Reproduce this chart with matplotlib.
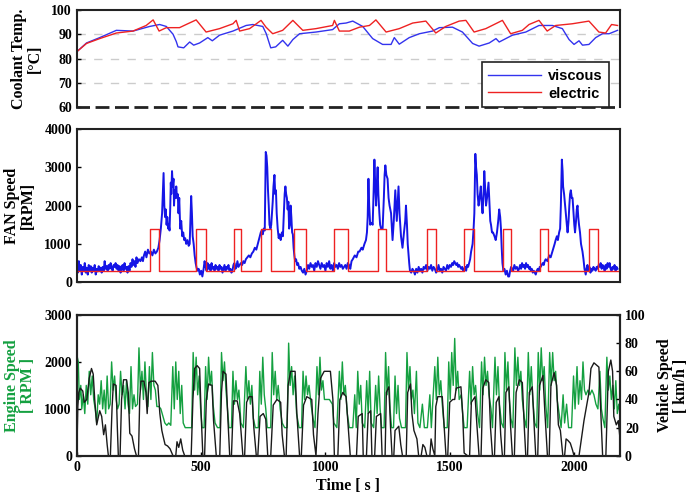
import matplotlib
matplotlib.use("Agg")
import matplotlib.pyplot as plt

plt.rcParams["font.family"] = ["Liberation Serif", "DejaVu Serif"]
plt.rcParams["font.weight"] = "bold"

# ---- coolant temperature [degC] ----
visc_t = [0, 39, 92, 159, 226, 293, 333, 360, 387, 400, 407, 430, 454, 470, 494,
          527, 545, 574, 628, 681, 708, 748, 762, 780, 800, 828, 849, 869, 896, 962,
          1029, 1056, 1083, 1110, 1150, 1190, 1230, 1264, 1277, 1297, 1337, 1378, 1431,
          1458, 1511, 1551, 1592, 1618, 1659, 1686, 1699, 1752, 1806, 1859, 1913, 1953,
          1980, 2000, 2020, 2034, 2060, 2087, 2114, 2141, 2175]
visc_temp = [82.8, 86.4, 88.6, 91.6, 91.3, 93.2, 94.0, 93.2, 90.0, 87.0, 84.8, 84.4,
             86.8, 85.5, 86.4, 88.6, 87.3, 89.6, 91.3, 93.6, 94.0, 93.2, 90.2, 84.4,
             84.8, 87.5, 85.1, 87.8, 90.2, 90.9, 91.9, 94.3, 94.6, 95.4, 93.2, 88.2,
             85.8, 85.8, 88.6, 85.9, 88.6, 90.2, 91.3, 92.7, 92.9, 90.9, 86.2, 85.1,
             86.4, 88.2, 86.8, 89.6, 90.9, 93.6, 93.6, 92.3, 87.8, 85.8, 87.3, 85.5,
             85.8, 88.6, 90.2, 90.2, 91.6]
elec_t = [0, 39, 92, 159, 226, 279, 307, 331, 360, 413, 440, 480, 520, 574, 628, 641,
          655, 695, 741, 761, 788, 828, 869, 909, 962, 1029, 1036, 1056, 1096, 1137,
          1177, 1203, 1244, 1297, 1351, 1404, 1444, 1484, 1538, 1565, 1598, 1645, 1712,
          1745, 1792, 1819, 1859, 1892, 1926, 1993, 2060, 2100, 2127, 2151, 2175]
elec_temp = [82.8, 86.2, 88.2, 90.5, 91.3, 93.6, 95.9, 91.3, 92.7, 92.7, 94.0, 95.9,
             90.9, 92.3, 94.3, 95.7, 91.3, 92.3, 95.7, 92.9, 90.2, 91.6, 95.7, 91.6,
             92.3, 93.6, 95.7, 91.3, 91.3, 92.9, 93.6, 95.9, 90.9, 92.3, 94.6, 95.4,
             90.5, 93.2, 95.4, 95.7, 90.9, 92.3, 95.7, 90.2, 91.6, 94.0, 95.7, 91.3,
             93.6, 94.3, 95.4, 90.9, 90.5, 94.0, 93.6]

# ---- fan speed [RPM] ----
fan_elec_t = [0, 296, 331, 478, 521, 632, 661, 739, 782, 873, 920, 1033, 1090, 1210,
              1244, 1407, 1444, 1558, 1598, 1715, 1746, 1865, 1897, 2060, 2098, 2175]
fan_elec = [300, 1400, 300, 1400, 300, 1400, 300, 1400, 300, 1400, 300, 1400, 300,
            1400, 300, 1400, 300, 1400, 300, 1400, 300, 1400, 300, 1400, 300, 300]

fan_visc = [
    (0, 400), (4, 250), (8, 550), (12, 300), (16, 450), (20, 200), (24, 400), (28, 300),
    (32, 500), (36, 250), (40, 380), (44, 200), (48, 450), (52, 300), (56, 420), (60, 250),
    (64, 380), (68, 300), (72, 450), (76, 200), (80, 350), (84, 280), (88, 420), (92, 300),
    (96, 380), (100, 250), (104, 400), (108, 300), (112, 550), (116, 350), (120, 420),
    (124, 300), (128, 450), (132, 350), (136, 500), (140, 380), (144, 300), (148, 450),
    (152, 400), (156, 500), (160, 350), (164, 450), (168, 300), (172, 420), (176, 250),
    (180, 380), (184, 450), (188, 300), (192, 500), (196, 350), (200, 400), (204, 250),
    (208, 420), (212, 300), (216, 500), (220, 400), (224, 600), (228, 450), (232, 550),
    (236, 400), (240, 650), (244, 500), (250, 600), (256, 550), (262, 650), (266, 550),
    (270, 700), (275, 800), (280, 650), (286, 850), (292, 750), (298, 800), (304, 700),
    (310, 850), (316, 750), (322, 800), (328, 900), (333, 1100), (338, 1400), (343, 1800),
    (346, 2300), (349, 2850), (352, 2000), (355, 1700), (358, 1900), (361, 1500),
    (364, 1700), (367, 1400), (370, 1500), (373, 1350), (376, 2000), (378, 2600),
    (380, 2300), (383, 2900), (386, 2500), (389, 2700), (391, 2000), (394, 2400),
    (397, 2200), (400, 2500), (403, 2200), (406, 2300), (409, 1800), (412, 2200),
    (416, 1400), (420, 1600), (424, 1200), (428, 1300), (432, 1100), (436, 1150),
    (440, 1000), (445, 1100), (450, 950), (454, 1000), (457, 1600), (460, 2250),
    (463, 1800), (466, 1200), (470, 1000), (474, 700), (478, 500), (481, 400),
    (485, 300), (490, 350), (495, 200), (500, 300), (505, 150), (510, 350), (514, 550),
    (518, 400), (522, 300), (526, 500), (530, 350), (534, 450), (538, 300), (542, 500),
    (546, 350), (550, 400), (554, 300), (558, 450), (562, 350), (566, 400), (570, 300),
    (574, 450), (578, 350), (582, 400), (586, 250), (590, 350), (594, 450), (598, 300),
    (602, 400), (606, 350), (610, 450), (614, 300), (618, 350), (622, 250), (626, 300),
    (630, 450), (634, 500), (638, 350), (642, 400), (646, 550), (650, 400), (655, 450),
    (660, 500), (665, 450), (670, 550), (675, 500), (680, 600), (686, 650), (692, 700),
    (698, 650), (704, 750), (710, 800), (716, 900), (722, 850), (728, 1000), (732, 1100),
    (736, 1200), (740, 1300), (744, 1350), (748, 1250), (752, 1400), (756, 1350),
    (758, 2500), (760, 3400), (763, 3300), (766, 3000), (769, 2400), (772, 2000),
    (775, 1500), (779, 1400), (782, 1500), (785, 1800), (788, 2100), (791, 2500),
    (795, 2800), (798, 2300), (801, 2400), (804, 1800), (808, 1400), (812, 1150),
    (816, 1250), (820, 1100), (825, 1300), (829, 1200), (833, 1800), (836, 2300),
    (839, 2500), (842, 2300), (845, 2200), (848, 1900), (851, 2100), (854, 1400),
    (857, 1500), (860, 2000), (863, 1700), (866, 1300), (869, 1250), (872, 900),
    (875, 700), (878, 550), (882, 600), (886, 450), (890, 500), (895, 350), (900, 400),
    (905, 300), (910, 250), (915, 350), (920, 200), (925, 300), (930, 450), (935, 350),
    (940, 500), (945, 400), (950, 450), (955, 300), (960, 500), (965, 400), (970, 550),
    (975, 450), (980, 350), (985, 500), (990, 400), (995, 450), (1000, 300), (1005, 500),
    (1010, 400), (1015, 550), (1020, 350), (1025, 450), (1030, 300), (1035, 500),
    (1040, 400), (1045, 450), (1050, 350), (1055, 500), (1060, 400), (1065, 450),
    (1070, 350), (1075, 400), (1080, 450), (1085, 350), (1090, 500), (1095, 450),
    (1100, 350), (1105, 550), (1110, 600), (1118, 700), (1125, 650), (1132, 800),
    (1137, 800), (1145, 900), (1150, 850), (1157, 1000), (1163, 1100), (1167, 1300),
    (1170, 1700), (1173, 2700), (1176, 2000), (1180, 1500), (1186, 1550), (1190, 1500),
    (1194, 2400), (1197, 3200), (1200, 2600), (1204, 2000), (1207, 2600), (1210, 3000),
    (1213, 2300), (1217, 1800), (1220, 1500), (1224, 1400), (1230, 1400), (1235, 2200),
    (1238, 2800), (1241, 3050), (1245, 2800), (1250, 2700), (1254, 2200), (1258, 2000),
    (1264, 1800), (1270, 1100), (1275, 1600), (1278, 2000), (1281, 2400), (1284, 2000),
    (1287, 1600), (1291, 2100), (1294, 2500), (1298, 1800), (1304, 1200), (1310, 900),
    (1316, 1300), (1321, 1600), (1324, 2000), (1328, 1500), (1331, 1000), (1337, 500),
    (1340, 300), (1345, 250), (1350, 350), (1355, 300), (1360, 200), (1365, 350),
    (1370, 250), (1375, 400), (1380, 300), (1385, 350), (1390, 250), (1395, 400),
    (1400, 350), (1405, 450), (1410, 300), (1415, 400), (1420, 350), (1425, 450),
    (1430, 300), (1435, 400), (1440, 350), (1445, 250), (1450, 300), (1455, 450),
    (1460, 300), (1465, 350), (1470, 250), (1475, 400), (1480, 350), (1485, 300),
    (1490, 450), (1495, 350), (1500, 450), (1505, 400), (1510, 500), (1514, 450),
    (1518, 550), (1522, 500), (1526, 450), (1530, 500), (1534, 400), (1538, 450),
    (1542, 400), (1546, 350), (1550, 400), (1554, 300), (1558, 350), (1562, 400),
    (1566, 300), (1570, 450), (1574, 400), (1578, 500), (1582, 600), (1586, 800),
    (1592, 1000), (1596, 1400), (1599, 1800), (1601, 2600), (1603, 3350), (1606, 3000),
    (1609, 2800), (1612, 2300), (1616, 2000), (1620, 2200), (1625, 2500), (1628, 2100),
    (1632, 1800), (1636, 2300), (1639, 2900), (1642, 2500), (1646, 2000), (1650, 2200),
    (1653, 2400), (1656, 2600), (1660, 2000), (1663, 1600), (1666, 1500), (1670, 1300),
    (1674, 1300), (1680, 1200), (1685, 1100), (1690, 1300), (1695, 1600), (1699, 1900),
    (1703, 1700), (1706, 1400), (1709, 900), (1712, 500), (1716, 300), (1720, 350),
    (1725, 200), (1730, 300), (1735, 150), (1739, 150), (1743, 300), (1747, 400),
    (1751, 350), (1755, 300), (1760, 450), (1765, 350), (1770, 400), (1775, 300),
    (1779, 350), (1783, 450), (1787, 350), (1791, 500), (1795, 400), (1799, 450),
    (1803, 350), (1807, 500), (1811, 400), (1815, 450), (1819, 350), (1823, 400),
    (1826, 300), (1830, 350), (1834, 250), (1838, 300), (1842, 250), (1846, 200),
    (1850, 300), (1854, 350), (1858, 300), (1862, 400), (1866, 400), (1870, 450),
    (1874, 500), (1878, 450), (1882, 550), (1886, 600), (1893, 550), (1900, 700),
    (1906, 650), (1913, 800), (1918, 900), (1922, 1000), (1926, 1100), (1931, 1200),
    (1935, 1100), (1940, 1300), (1944, 1400), (1947, 2000), (1951, 3200), (1954, 2900),
    (1956, 2500), (1960, 2300), (1964, 2000), (1968, 1700), (1971, 1500), (1974, 1300),
    (1978, 1600), (1981, 2000), (1984, 2300), (1987, 2400), (1991, 2200), (1994, 2200),
    (1998, 1800), (2001, 1500), (2004, 1300), (2008, 1600), (2011, 1900), (2014, 2000),
    (2017, 1700), (2020, 1500), (2024, 1300), (2028, 1000), (2031, 900), (2034, 800),
    (2038, 600), (2042, 350), (2047, 200), (2050, 350), (2054, 450), (2058, 300),
    (2062, 400), (2066, 250), (2070, 350), (2074, 300), (2078, 400), (2082, 350),
    (2087, 300), (2091, 400), (2095, 350), (2099, 450), (2103, 400), (2107, 500),
    (2111, 350), (2115, 450), (2119, 400), (2123, 300), (2127, 450), (2131, 350),
    (2135, 500), (2139, 400), (2143, 500), (2147, 350), (2151, 300), (2155, 400),
    (2159, 350), (2163, 450), (2167, 300), (2171, 400), (2175, 350),
]
fan_visc_t = [p[0] for p in fan_visc]
fan_visc_v = [p[1] for p in fan_visc]

# ---- engine speed [RPM] ----
engine = [
    (0, 600), (2, 2100), (6, 2000), (10, 1200), (16, 1500), (20, 1000), (26, 1300),
    (32, 900), (38, 1500), (44, 1100), (50, 1800), (56, 1300), (62, 1700), (68, 1200),
    (74, 1000), (80, 700), (86, 1300), (92, 1100), (98, 1600), (104, 1000), (110, 1400),
    (116, 900), (122, 1700), (128, 1000), (134, 1100), (140, 2000), (146, 1400),
    (152, 1700), (158, 1200), (164, 1000), (170, 1100), (176, 1800), (182, 1300),
    (188, 1500), (194, 1000), (200, 1600), (206, 1100), (212, 900), (218, 1900),
    (224, 1000), (230, 1300), (236, 1050), (244, 1100), (250, 2300), (256, 1400),
    (262, 1800), (268, 1200), (274, 2000), (280, 1300), (286, 1050), (292, 1900),
    (298, 1200), (304, 2200), (310, 1500), (316, 1400), (322, 1050), (330, 1050),
    (338, 1000), (346, 850), (354, 700), (362, 650), (370, 700), (378, 650), (386, 1900),
    (392, 1000), (398, 2000), (404, 1200), (410, 1800), (416, 900), (422, 1500),
    (428, 700), (436, 600), (450, 600), (462, 600), (468, 2200), (474, 1400), (480, 2100),
    (486, 1300), (492, 1700), (498, 1000), (504, 600), (512, 600), (518, 1900),
    (524, 1200), (530, 2100), (536, 1500), (542, 1800), (548, 1100), (556, 700),
    (566, 600), (576, 600), (582, 2200), (588, 1600), (594, 2000), (600, 1400),
    (606, 1000), (612, 600), (622, 600), (628, 1800), (634, 1100), (640, 1600),
    (646, 1200), (652, 1400), (660, 700), (670, 600), (680, 1900), (686, 1200),
    (692, 1600), (698, 1100), (704, 1500), (710, 800), (718, 600), (730, 600),
    (736, 1800), (742, 1100), (748, 2100), (754, 1300), (760, 1000), (766, 600),
    (780, 600), (786, 2200), (792, 1300), (798, 1800), (804, 1200), (810, 1500),
    (818, 1000), (826, 700), (836, 600), (846, 600), (852, 2400), (858, 1500),
    (864, 1900), (870, 1300), (876, 1700), (884, 900), (894, 600), (904, 600),
    (910, 1800), (916, 1200), (922, 1700), (928, 1300), (934, 1500), (942, 1100),
    (950, 800), (958, 600), (966, 1900), (972, 1300), (978, 2100), (984, 1400),
    (990, 1600), (996, 1200), (1004, 1200), (1016, 1200), (1028, 1100), (1034, 700),
    (1046, 600), (1056, 1800), (1062, 1200), (1068, 2000), (1074, 1300), (1080, 1500),
    (1088, 900), (1096, 600), (1110, 600), (1118, 1300), (1124, 600), (1130, 1800),
    (1136, 1100), (1142, 1500), (1148, 700), (1158, 600), (1166, 1600), (1172, 900),
    (1178, 1800), (1184, 700), (1194, 600), (1202, 1500), (1208, 900), (1214, 1700),
    (1220, 1000), (1226, 600), (1236, 600), (1242, 2200), (1248, 1300), (1254, 1900),
    (1260, 1000), (1266, 600), (1274, 600), (1280, 1700), (1286, 900), (1292, 1500),
    (1298, 800), (1306, 600), (1322, 600), (1328, 2200), (1334, 1400), (1340, 1900),
    (1346, 1200), (1352, 1400), (1358, 900), (1366, 1800), (1372, 700), (1380, 600),
    (1390, 1100), (1398, 600), (1410, 600), (1420, 1300), (1426, 600), (1440, 1900),
    (1446, 1200), (1452, 2100), (1458, 1300), (1464, 1600), (1470, 1100), (1478, 600),
    (1490, 600), (1496, 2000), (1502, 1200), (1508, 2200), (1514, 1500), (1520, 2500),
    (1526, 1400), (1532, 1800), (1538, 1200), (1546, 1300), (1552, 900), (1558, 600),
    (1570, 600), (1580, 1800), (1586, 1100), (1592, 1900), (1598, 1300), (1604, 1500),
    (1612, 900), (1620, 600), (1628, 2000), (1634, 1300), (1640, 2100), (1646, 1500),
    (1652, 1800), (1658, 1300), (1666, 1000), (1672, 600), (1682, 2100), (1688, 1300),
    (1694, 1900), (1700, 1100), (1708, 700), (1716, 600), (1722, 2200), (1728, 1400),
    (1734, 2000), (1740, 1200), (1746, 800), (1754, 600), (1762, 2300), (1768, 1500),
    (1774, 2100), (1780, 1500), (1786, 1800), (1792, 1200), (1800, 800), (1808, 600),
    (1816, 2200), (1822, 1300), (1828, 1900), (1834, 1200), (1842, 700), (1850, 600),
    (1856, 2200), (1862, 1400), (1868, 2300), (1874, 1600), (1880, 1900), (1886, 1100),
    (1894, 600), (1902, 2200), (1908, 1500), (1914, 2200), (1920, 1600), (1926, 1800),
    (1932, 1200), (1940, 900), (1948, 600), (1956, 1300), (1962, 700), (1970, 1100),
    (1978, 600), (1990, 600), (1998, 1700), (2004, 1000), (2012, 1900), (2018, 1100),
    (2024, 1600), (2030, 1200), (2036, 2000), (2042, 1400), (2048, 1300), (2056, 1400),
    (2064, 1300), (2072, 1400), (2080, 1300), (2088, 1100), (2096, 1000), (2104, 1800),
    (2110, 1000), (2116, 800), (2124, 600), (2132, 2100), (2138, 1400), (2144, 1700),
    (2150, 1200), (2156, 1500), (2162, 1000), (2168, 1600), (2174, 900), (2180, 1100),
    (2185, 900),
]
engine_t = [p[0] for p in engine]
engine_rpm = [p[1] for p in engine]

# ---- vehicle speed [km/h] ----
vehicle = [
    (0, 0), (4, 35), (8, 45), (14, 48), (24, 46), (30, 38), (40, 40), (50, 55), (59, 62),
    (66, 58), (72, 40), (80, 22), (92, 32), (100, 28), (108, 15), (115, 22), (122, 8),
    (127, 0), (135, 0), (142, 35), (147, 51), (158, 50), (163, 20), (167, 0), (174, 0),
    (180, 40), (188, 54), (200, 54), (207, 45), (213, 16), (222, 14), (232, 5), (240, 0),
    (248, 0), (253, 40), (258, 53), (270, 53), (278, 45), (283, 30), (290, 52), (300, 53),
    (315, 53), (326, 50), (334, 30), (342, 18), (347, 14), (355, 8), (365, 7), (375, 5),
    (387, 0), (398, 0), (403, 10), (410, 6), (418, 12), (426, 4), (434, 0), (460, 0),
    (467, 40), (474, 62), (484, 64), (494, 62), (500, 30), (507, 0), (514, 0), (521, 40),
    (530, 51), (544, 50), (550, 25), (561, 0), (575, 0), (582, 45), (588, 60), (600, 58),
    (608, 25), (615, 0), (622, 0), (630, 39), (645, 39), (655, 30), (668, 0), (675, 0),
    (683, 38), (693, 42), (705, 42), (712, 20), (722, 0), (728, 0), (737, 28), (750, 30),
    (760, 26), (768, 0), (780, 0), (790, 36), (805, 40), (820, 38), (826, 15), (835, 0),
    (842, 0), (850, 50), (860, 60), (878, 60), (885, 30), (896, 0), (903, 0), (912, 36),
    (925, 42), (945, 40), (952, 15), (962, 0), (970, 30), (980, 55), (995, 60),
    (1020, 60), (1030, 40), (1036, 0), (1050, 0), (1058, 40), (1070, 45), (1083, 42),
    (1090, 25), (1100, 0), (1125, 0), (1132, 28), (1148, 30), (1152, 0), (1165, 0),
    (1172, 30), (1182, 32), (1187, 0), (1198, 0), (1205, 28), (1222, 30), (1228, 0),
    (1240, 0), (1245, 45), (1255, 49), (1262, 20), (1268, 0), (1275, 0), (1280, 18),
    (1295, 21), (1303, 8), (1310, 0), (1325, 0), (1331, 45), (1342, 51), (1348, 30),
    (1356, 18), (1368, 12), (1375, 0), (1385, 0), (1392, 8), (1400, 6), (1408, 0),
    (1420, 0), (1425, 12), (1432, 5), (1440, 0), (1444, 35), (1452, 42), (1470, 42),
    (1478, 20), (1485, 0), (1492, 0), (1500, 38), (1512, 40), (1520, 40), (1526, 48),
    (1545, 49), (1552, 30), (1558, 2), (1572, 0), (1580, 0), (1587, 38), (1602, 42),
    (1610, 20), (1618, 0), (1626, 0), (1633, 48), (1645, 54), (1657, 52), (1664, 20),
    (1672, 0), (1680, 0), (1687, 38), (1698, 42), (1705, 15), (1712, 0), (1720, 0),
    (1726, 45), (1738, 49), (1745, 20), (1752, 0), (1760, 0), (1767, 45), (1780, 54),
    (1792, 52), (1800, 20), (1806, 0), (1813, 0), (1820, 45), (1832, 49), (1840, 20),
    (1846, 0), (1854, 0), (1861, 50), (1875, 57), (1883, 30), (1893, 0), (1900, 0),
    (1907, 50), (1920, 59), (1930, 50), (1937, 22), (1945, 18), (1955, 0), (1962, 0),
    (1968, 12), (1975, 11), (1985, 9), (1994, 4), (2000, 0), (2020, 0), (2040, 25),
    (2060, 45), (2068, 62), (2080, 66), (2100, 63), (2108, 30), (2115, 0), (2128, 0),
    (2138, 60), (2148, 68), (2155, 60), (2160, 28), (2170, 22), (2178, 25), (2185, 12),
]
vehicle_t = [p[0] for p in vehicle]
vehicle_kmh = [p[1] for p in vehicle]

XMAX = 2185
TICK_FS = 10
LAB_FS = 11.5

fig = plt.figure(figsize=(6.92, 4.96), dpi=100)
ax1 = fig.add_axes([0.111, 0.784, 0.785, 0.196])
ax2 = fig.add_axes([0.111, 0.431, 0.785, 0.309])
ax3 = fig.add_axes([0.111, 0.081, 0.785, 0.284])
ax4 = ax3.twinx()

for ax in (ax1, ax2, ax3, ax4):
    for sp in ax.spines.values():
        sp.set_linewidth(1.5)
        sp.set_color("#222222")
    ax.tick_params(direction="in", length=3, width=1, labelsize=TICK_FS)
    ax.set_xlim(0, XMAX)

# coolant temperature
ax1.plot(visc_t, visc_temp, color="#3333ee", lw=1.0, label="viscous")
ax1.plot(elec_t, elec_temp, color="#ee2222", lw=1.0, label="electric")
ax1.set_ylim(60, 100)
ax1.set_yticks([60, 70, 80, 90, 100])
for v in [70, 80, 90]:
    ax1.axhline(v, color="#cccccc", lw=1.0, ls=(0, (6, 6)), zorder=0)
ax1.spines["bottom"].set_linestyle((0, (4, 3)))
ax1.spines["bottom"].set_linewidth(2)
ax1.tick_params(axis="x", length=0, labelbottom=False)
ax1.set_ylabel("Coolant Temp.\n[°C]", fontsize=LAB_FS, fontweight="bold",
               linespacing=1.0, labelpad=6)
leg = ax1.legend(loc="lower right", bbox_to_anchor=(0.98, 0.0), borderaxespad=0.0,
                 prop={"family": "Liberation Sans", "weight": "bold", "size": 10.5},
                 handlelength=3.6, fancybox=False, framealpha=1, labelspacing=0.25,
                 borderpad=0.45, handletextpad=0.5)
leg.get_frame().set_edgecolor("#222222")
leg.get_frame().set_linewidth(1.2)

# fan speed
ax2.plot(fan_visc_t, fan_visc_v, color="#1515e6", lw=1.4)
ax2.plot(fan_elec_t, fan_elec, color="#ee2222", lw=1.0, drawstyle="steps-post")
ax2.set_ylim(0, 4000)
ax2.set_yticks([0, 1000, 2000, 3000, 4000])
ax2.tick_params(axis="x", length=0, labelbottom=False)
ax2.set_ylabel("FAN Speed\n[RPM]", fontsize=LAB_FS, fontweight="bold",
               linespacing=1.0, labelpad=6)

# engine / vehicle speed
ax3.plot(engine_t, engine_rpm, color="#14a040", lw=1.0)
ax3.set_ylim(0, 3000)
ax3.set_yticks([0, 1000, 2000, 3000])
ax3.set_xticks([0, 500, 1000, 1500, 2000])
ax3.set_ylabel("Engine Speed\n[ RPM ]", fontsize=LAB_FS, fontweight="bold",
               color="#14a040", linespacing=1.0, labelpad=6)
ax3.set_xlabel("Time [ s ]", fontsize=LAB_FS, fontweight="bold", labelpad=3)

ax4.plot(vehicle_t, vehicle_kmh, color="#1a1a1a", lw=1.0)
ax4.set_ylim(0, 100)
ax4.set_yticks([0, 20, 40, 60, 80, 100])
ax4.set_ylabel("Vehicle Speed\n[ km/h ]", fontsize=LAB_FS, fontweight="bold",
               linespacing=1.0, labelpad=8)

for ax in (ax1, ax2, ax3, ax4):
    for lab in ax.get_xticklabels() + ax.get_yticklabels():
        lab.set_fontweight("bold")

fig.savefig("out.png", dpi=100)
